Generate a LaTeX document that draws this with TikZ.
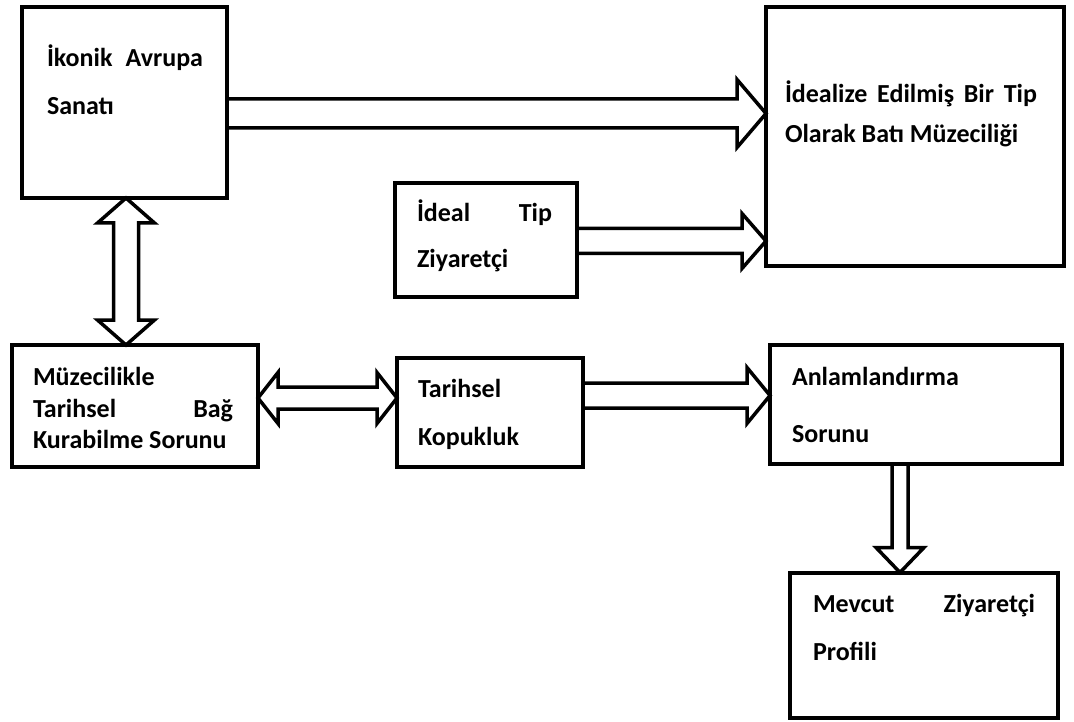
\documentclass[tikz,border=0pt]{standalone}
\usepackage{fontspec}
\setmainfont{Carlito}
\usetikzlibrary{calc}

% Horizontal block arrow from #1 to #2: shaft half-height #3, head half-height #4, head length #5
\newcommand{\hblockarrow}[5]{%
  \draw[blockline] ($(#1)+(0,-#3)$) -- ($(#2)+(-#5,-#3)$) -- ($(#2)+(-#5,-#4)$) -- (#2)
    -- ($(#2)+(-#5,#4)$) -- ($(#2)+(-#5,#3)$) -- ($(#1)+(0,#3)$);}
% Horizontal block arrow with heads at both ends
\newcommand{\hdblockarrow}[5]{%
  \draw[blockline] (#1) -- ($(#1)+(#5,-#4)$) -- ($(#1)+(#5,-#3)$) -- ($(#2)+(-#5,-#3)$)
    -- ($(#2)+(-#5,-#4)$) -- (#2) -- ($(#2)+(-#5,#4)$) -- ($(#2)+(-#5,#3)$)
    -- ($(#1)+(#5,#3)$) -- ($(#1)+(#5,#4)$) -- cycle;}
% Vertical block arrow (downwards) from #1 to #2
\newcommand{\vblockarrow}[5]{%
  \draw[blockline] ($(#1)+(-#3,0)$) -- ($(#2)+(-#3,-#5)$) -- ($(#2)+(-#4,-#5)$) -- (#2)
    -- ($(#2)+(#4,-#5)$) -- ($(#2)+(#3,-#5)$) -- ($(#1)+(#3,0)$);}
% Vertical block arrow with heads at both ends
\newcommand{\vdblockarrow}[5]{%
  \draw[blockline] (#1) -- ($(#1)+(-#4,#5)$) -- ($(#1)+(-#3,#5)$) -- ($(#2)+(-#3,-#5)$)
    -- ($(#2)+(-#4,-#5)$) -- (#2) -- ($(#2)+(#4,-#5)$) -- ($(#2)+(#3,-#5)$)
    -- ($(#1)+(#3,#5)$) -- ($(#1)+(#4,#5)$) -- cycle;}

\tikzset{
  box/.style={draw, line width=4pt, rectangle, inner sep=0pt, outer sep=0pt},
  blockline/.style={line width=3.5pt, line join=miter, miter limit=10},
  txt/.style={anchor=base west, inner sep=0pt, outer sep=0pt,
    font=\fontsize{26}{31}\selectfont\bfseries},
}

\begin{document}
\begin{tikzpicture}[x=1pt, y=-1pt]
\useasboundingbox (0,0) rectangle (1074,722);

% boxes
\node[box, minimum width=205pt, minimum height=191pt] (ikonik) at (124.5,102.5) {};
\node[box, minimum width=298pt, minimum height=259pt] (idealize) at (915,136.5) {};
\node[box, minimum width=182pt, minimum height=114pt] (idealtip) at (486,240) {};
\node[box, minimum width=246pt, minimum height=122pt] (muze) at (135,406) {};
\node[box, minimum width=186pt, minimum height=109pt] (kopuk) at (490,412.5) {};
\node[box, minimum width=292pt, minimum height=119pt] (anlam) at (916,404.5) {};
\node[box, minimum width=268pt, minimum height=145pt] (mevcut) at (924,645) {};

% texts
\node[txt] (t1a) at (47,67) {\hbox to 156pt{İkonik\hfill Avrupa}};
\node[txt] (t1b) at (47,115) {Sanatı};
\node[txt] (t2a) at (785,103) {\hbox to 252pt{İdealize\hfill Edilmiş\hfill Bir\hfill Tip}};
\node[txt] (t2b) at (785,143) {Olarak Batı Müzeciliği};
\node[txt] (t3a) at (417,222) {\hbox to 135pt{İdeal\hfill Tip}};
\node[txt] (t3b) at (417,268) {Ziyaretçi};
\node[txt] (t4a) at (33,385) {Müzecilikle};
\node[txt] (t4b) at (33,417) {\hbox to 200pt{Tarihsel\hfill Bağ}};
\node[txt] (t4c) at (33,448) {Kurabilme Sorunu};
\node[txt] (t5a) at (418,397) {Tarihsel};
\node[txt] (t5b) at (418,445) {Kopukluk};
\node[txt] (t6a) at (792,385) {Anlamlandırma};
\node[txt] (t6b) at (792,442) {Sorunu};
\node[txt] (t7a) at (813,612) {\hbox to 222pt{Mevcut\hfill Ziyaretçi}};
\node[txt] (t7b) at (813,660) {Profili};

% connector end points on the box borders
\coordinate (a1s) at (ikonik.east |- 0,113.5);
\coordinate (a1e) at (idealize.west |- 0,113.5);
\coordinate (a2s) at (idealtip.east |- 0,241);
\coordinate (a2e) at (idealize.west |- 0,241);
\coordinate (a3s) at (ikonik.south -| 126,0);
\coordinate (a3e) at (muze.north -| 126,0);
\coordinate (a4s) at (muze.east |- 0,398);
\coordinate (a4e) at (kopuk.west |- 0,398);
\coordinate (a5s) at (kopuk.east |- 0,395.5);
\coordinate (a5e) at (anlam.west |- 0,395.5);
\coordinate (a6s) at (anlam.south -| 900,0);
\coordinate (a6e) at (mevcut.north -| 900,0);

% block arrows
\hblockarrow{a1s}{a1e}{14.5}{34}{29}
\hblockarrow{a2s}{a2e}{12.5}{27.5}{24}
\vdblockarrow{a3s}{a3e}{12.5}{28.5}{25}
\hdblockarrow{a4s}{a4e}{11}{25.5}{20}
\hblockarrow{a5s}{a5e}{12.5}{28}{23}
\vblockarrow{a6s}{a6e}{8}{24}{25}
\end{tikzpicture}
\end{document}
